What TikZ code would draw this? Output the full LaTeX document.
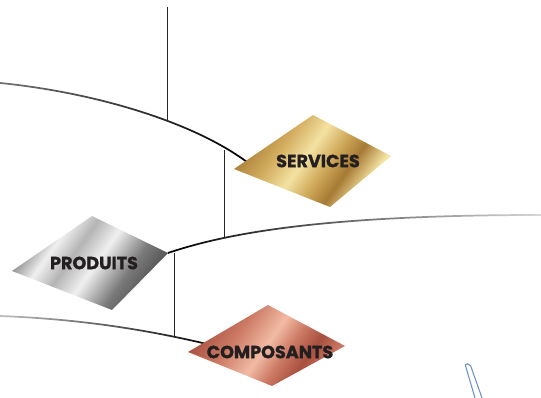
\documentclass[tikz,border=0pt]{standalone}
\usepackage{fontspec}
\newfontfamily\labfont{Poppins}[BoldFeatures={FakeBold=1.2}]
\usetikzlibrary{fadings}
\definecolor{gA}{HTML}{A67A34}
\definecolor{gB}{HTML}{D2AC5E}
\definecolor{gC}{HTML}{F4E2A2}
\definecolor{sA}{HTML}{7A7A7A}
\definecolor{sB}{HTML}{B4B4B4}
\definecolor{sC}{HTML}{F0F0F0}
\definecolor{sD}{HTML}{4A4A4A}
\definecolor{cA}{HTML}{A8503F}
\definecolor{cB}{HTML}{CC7A65}
\definecolor{cC}{HTML}{F2BBA4}
\definecolor{txt}{HTML}{231F20}
\definecolor{blueln}{HTML}{6A94C8}
\pgfdeclarehorizontalshading{goldsh}{100bp}{color(0bp)=(gA); color(25bp)=(gA); color(37bp)=(gB); color(47bp)=(gC); color(55bp)=(gB); color(63bp)=(gA); color(72bp)=(gC); color(100bp)=(gC)}
\pgfdeclarehorizontalshading{silversh}{100bp}{color(0bp)=(sA); color(25bp)=(sA); color(35bp)=(sC); color(43bp)=(sB); color(52bp)=(sC); color(64bp)=(sA); color(75bp)=(sD); color(100bp)=(sD)}
\pgfdeclarehorizontalshading{coppersh}{100bp}{color(0bp)=(cA); color(25bp)=(cA); color(38bp)=(cB); color(50bp)=(cC); color(58bp)=(cB); color(66bp)=(cA); color(75bp)=(cB); color(100bp)=(cB)}
\tikzfading[name=lightleft, left color=transparent!45, right color=transparent!0]
\tikzfading[name=lightleftmore, left color=transparent!75, right color=transparent!0]
\tikzfading[name=lightright, left color=transparent!0, right color=transparent!85]
\tikzset{
  curve/.style={line width=1.3pt, black},
  vline/.style={line width=0.75pt, black!85},
  label/.style={text=txt, font=\labfont\bfseries\fontsize{13.2}{13.2}\selectfont, inner sep=0pt},
}
\begin{document}
\begin{tikzpicture}[x=0.75pt,y=-0.75pt]
\useasboundingbox (0,0) rectangle (541,398);
% junction coordinates
\coordinate (c1s) at (0,83);
\coordinate (c1e) at (247,162);
\coordinate (j1) at (167,121);
\coordinate (j1top) at (167,7);
\coordinate (j2) at (224,150);
\coordinate (j2b) at (224,238);
\coordinate (c2s) at (168,253);
\coordinate (c2e) at (541,215);
\coordinate (j3) at (174,253);
\coordinate (j3b) at (174,336);
\coordinate (c3s) at (0,316);
\coordinate (c3e) at (215,346);
% curves
\draw[curve, path fading=lightleft] (c1s) .. controls (90,92) and (190,120) .. (c1e);
\draw[curve, path fading=lightright] (c2s) .. controls (230,232) and (330,215) .. (c2e);
\draw[curve, path fading=lightleftmore] (c3s) .. controls (80,319) and (150,330) .. (c3e);
% verticals
\draw[vline] (j1top) -- (j1);
\draw[vline] (j2) -- (j2b);
\draw[vline] (j3) -- (j3b);
% diamonds
\shade[shading=goldsh, shading angle=-35] (313,115) -- (391,156) -- (330,207) -- (234,169) -- cycle;
\shade[shading=silversh, shading angle=-35] (92,216) -- (168,253) -- (112,310) -- (12,271) -- cycle;
\shade[shading=coppersh, shading angle=-35] (268,305) -- (345,346) -- (272,386) -- (188,352) -- cycle;
\node[label] (services) at (318,161) {SERVICES};
\node[label] (produits) at (94,263) {PRODUITS};
\node[label] (composants) at (270,352) {COMPOSANTS};
% blue fragment
\draw[blueln, line width=0.8pt, rounded corners=1.5pt] (475,398) -- (465,364) -- (470,364) -- (482,398);
\end{tikzpicture}
\end{document}
